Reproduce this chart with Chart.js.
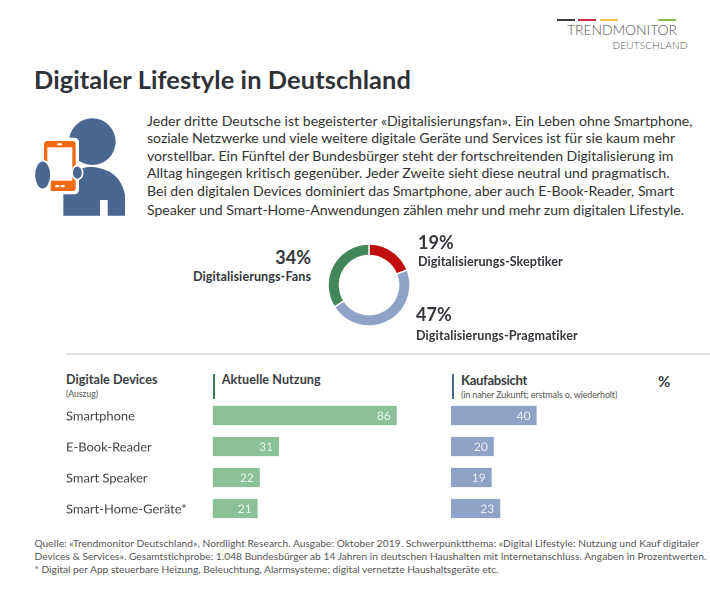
<!DOCTYPE html>
<html lang="de">
<head>
<meta charset="utf-8">
<title>Digitaler Lifestyle in Deutschland</title>
<script src="https://cdn.jsdelivr.net/npm/chart.js@4"></script>
<style>
html, body { margin: 0; padding: 0; background: #fff; }
#page { position: relative; width: 710px; height: 592px; overflow: hidden; font-family: Lato, sans-serif; color: #3a3d42; }
#page div, #page canvas { position: absolute; }
.t { white-space: nowrap; line-height: 1; }
.body { left: 147px; font-size: 14.1px; color: #333; }
.pct { font-size: 18px; font-weight: 700; color: #33363b; }
.seg { font-size: 12.6px; font-weight: 700; color: #33363b; }
.foot { left: 34.5px; font-size: 10.2px; color: #555; }
.bar-rule { width: 2px; height: 25px; top: 374px; }
</style>
</head>
<body>
<div id="page">
  <div style="left:557px;top:19px;width:18px;height:2px;background:#3c3c3c"></div>
  <div style="left:578px;top:19px;width:18px;height:2px;background:#c8313a"></div>
  <div style="left:600px;top:19px;width:18px;height:2px;background:#eec64a"></div>
  <div style="left:658px;top:19px;width:18px;height:2px;background:#8cba4e"></div>
  <div class="t" data-w="110" style="left:567px;top:23px;font-size:14px;font-weight:300;color:#555">TRENDMONITOR</div>
  <div class="t" data-w="75" style="left:612.5px;top:39.5px;font-size:10px;font-weight:300;color:#555">DEUTSCHLAND</div>

  <div class="t" data-w="377" style="left:34px;top:67px;font-size:25.4px;font-weight:700;color:#2f3237">Digitaler Lifestyle in Deutschland</div>

  <svg style="position:absolute;left:20px;top:105px" width="130" height="120" viewBox="0 0 390 360">
    <circle cx="217" cy="110" r="70" fill="#4a6791"/>
    <path d="M130 332 V250 Q150 190 210 185 Q300 190 315 270 V332 H263 V285 H240 V332 Z" fill="#4a6791"/>
    <rect x="62" y="98" width="115" height="170" rx="14" fill="#fff"/>
    <rect x="72" y="108" width="95" height="150" rx="10" fill="#f26a10"/>
    <rect x="82" y="127" width="75" height="100" fill="#fff"/>
    <rect x="72" y="172" width="20" height="90" fill="#fff"/>
    <rect x="112" y="115" width="14" height="6" rx="2" fill="#fff"/>
    <rect x="106" y="240" width="12" height="7" rx="2" fill="#fff"/>
    <rect x="122" y="240" width="12" height="7" rx="2" fill="#fff"/>
    <ellipse cx="68" cy="210" rx="25" ry="43" fill="#4a6791" stroke="#fff" stroke-width="5"/>
    <ellipse cx="172" cy="203" rx="16" ry="21" fill="#4a6791" stroke="#fff" stroke-width="5"/>
  </svg>

  <div class="t body" data-w="545" style="top:113.5px">Jeder dritte Deutsche ist begeisterter «Digitalisierungsfan». Ein Leben ohne Smartphone,</div>
  <div class="t body" data-w="528" style="top:131px">soziale Netzwerke und viele weitere digitale Geräte und Services ist für sie kaum mehr</div>
  <div class="t body" data-w="526" style="top:149px">vorstellbar. Ein Fünftel der Bundesbürger steht der fortschreitenden Digitalisierung im</div>
  <div class="t body" data-w="523" style="top:166px">Alltag hingegen kritisch gegenüber. Jeder Zweite sieht diese neutral und pragmatisch.</div>
  <div class="t body" data-w="527" style="top:184px">Bei den digitalen Devices dominiert das Smartphone, aber auch E-Book-Reader, Smart</div>
  <div class="t body" data-w="537" style="top:203px">Speaker und Smart-Home-Anwendungen zählen mehr und mehr zum digitalen Lifestyle.</div>

  <canvas id="donutChart" style="left:319px;top:235px;width:100px;height:100px"></canvas>
  <div class="t pct" id="pctFans" style="right:399px;top:248px"></div>
  <div class="t seg" id="lblFans" data-w="118" style="right:399px;top:271px"></div>
  <div class="t pct" id="pctSkeptiker" style="left:418px;top:233px"></div>
  <div class="t seg" id="lblSkeptiker" data-w="145" style="left:418px;top:256px"></div>
  <div class="t pct" id="pctPragmatiker" style="left:416px;top:305px"></div>
  <div class="t seg" id="lblPragmatiker" data-w="162" style="left:416px;top:330px"></div>

  <div style="left:66px;top:353px;width:644px;height:2px;background:#dfe1e4"></div>

  <div class="t" data-w="91.5" style="left:66px;top:374px;font-size:12.6px;font-weight:700">Digitale Devices</div>
  <div class="t" data-w="32" style="left:66px;top:390px;font-size:8.6px;color:#555">(Auszug)</div>
  <div class="bar-rule" style="left:212.5px;background:#3c7a4e"></div>
  <div class="t" data-w="99" style="left:221.7px;top:373.5px;font-size:12.6px;font-weight:700">Aktuelle Nutzung</div>
  <div class="bar-rule" style="left:451.5px;background:#4a6791"></div>
  <div class="t" data-w="66" style="left:461px;top:374px;font-size:13.2px;font-weight:700">Kaufabsicht</div>
  <div class="t" data-w="156" style="left:461px;top:390px;font-size:9px;color:#555">(in naher Zukunft; erstmals o. wiederholt)</div>
  <div class="t" style="left:658px;top:374px;font-size:15px;font-weight:700">%</div>

  <canvas id="usageChart" style="left:66px;top:400px;width:354px;height:124px"></canvas>
  <canvas id="intentChart" style="left:450.7px;top:400px;width:214px;height:124px"></canvas>

  <div class="t foot" data-w="664.5" style="top:537.5px">Quelle: «Trendmonitor Deutschland», Nordlight Research. Ausgabe: Oktober 2019. Schwerpunktthema: «Digital Lifestyle: Nutzung und Kauf digitaler</div>
  <div class="t foot" data-w="672" style="top:550.5px">Devices &amp; Services». Gesamtstichprobe: 1.048 Bundesbürger ab 14 Jahren in deutschen Haushalten mit Internetanschluss. Angaben in Prozentwerten.</div>
  <div class="t foot" data-w="464" style="top:564px">* Digital per App steuerbare Heizung, Beleuchtung, Alarmsysteme; digital vernetzte Haushaltsgeräte etc.</div>
</div>

<script>
const segmentLabels = ['Digitalisierungs-Skeptiker', 'Digitalisierungs-Pragmatiker', 'Digitalisierungs-Fans'];
const segmentValues = [19, 47, 34];
const segmentColors = ['#c00d0d', '#8ea3c6', '#43885a'];

const devices = ['Smartphone', 'E-Book-Reader', 'Smart Speaker', 'Smart-Home-Geräte*'];
const usageValues = [86, 31, 22, 21];
const intentValues = [40, 20, 19, 23];

const AXIS_GUTTER = 146.7;
const PX_PER_UNIT = 2.14;

Chart.defaults.font.family = 'Lato, sans-serif';
Chart.defaults.animation = false;
Chart.defaults.devicePixelRatio = 2;

const barValueLabels = {
    id: 'barValueLabels',
    afterDatasetsDraw(chart) {
        const ctx = chart.ctx;
        const meta = chart.getDatasetMeta(0);
        ctx.save();
        ctx.font = '12px Lato, sans-serif';
        ctx.fillStyle = 'rgba(255,255,255,0.85)';
        ctx.textAlign = 'right';
        ctx.textBaseline = 'middle';
        meta.data.forEach((bar, i) => {
            ctx.fillText(chart.data.datasets[0].data[i], bar.x - 6, bar.y + 0.5);
        });
        ctx.restore();
    }
};

function barOptions(showCategories, widthPx) {
    return {
        indexAxis: 'y',
        responsive: false,
        layout: { padding: 0 },
        plugins: { legend: { display: false }, tooltip: { enabled: false } },
        scales: {
            x: {
                display: false,
                min: 0,
                max: (widthPx - (showCategories ? AXIS_GUTTER : 0)) / PX_PER_UNIT
            },
            y: {
                display: showCategories,
                border: { display: false },
                grid: { display: false },
                afterFit(scale) {
                    if (!showCategories) return;
                    scale.width = AXIS_GUTTER;
                    // tick labels must not shrink the bands
                    scale.paddingTop = 0;
                    scale.paddingBottom = 0;
                },
                ticks: {
                    crossAlign: 'far',
                    padding: 0,
                    labelOffset: 1,
                    color: '#3f4247',
                    font: { size: 12.9 }
                }
            }
        }
    };
}

function makeBarChart(id, values, color, showCategories, widthPx) {
    const canvas = document.getElementById(id);
    canvas.width = widthPx;
    canvas.height = 124;
    return new Chart(canvas, {
        type: 'bar',
        data: {
            labels: devices,
            datasets: [{
                data: values,
                backgroundColor: color,
                barPercentage: 0.623,
                categoryPercentage: 1
            }]
        },
        options: barOptions(showCategories, widthPx),
        plugins: [barValueLabels]
    });
}

// squeeze a text line to the width it has in the picture
function fitLine(el) {
    const target = parseFloat(el.dataset.w);
    const chars = el.textContent.length;
    const diff = target - el.getBoundingClientRect().width;
    el.style.letterSpacing = (diff / chars).toFixed(3) + 'px';
}

const donutCanvas = document.getElementById('donutChart');
donutCanvas.width = 100;
donutCanvas.height = 100;
new Chart(donutCanvas, {
    type: 'doughnut',
    data: {
        labels: segmentLabels,
        datasets: [{
            data: segmentValues,
            backgroundColor: segmentColors,
            borderColor: '#fff',
            borderWidth: 1.5
        }]
    },
    options: {
        responsive: false,
        cutout: '72%',
        radius: 41,
        plugins: { legend: { display: false }, tooltip: { enabled: false } }
    }
});

makeBarChart('usageChart', usageValues, '#8cc097', true, 354);
makeBarChart('intentChart', intentValues, '#8ea3c6', false, 214);

document.getElementById('pctSkeptiker').textContent = segmentValues[0] + '%';
document.getElementById('pctPragmatiker').textContent = segmentValues[1] + '%';
document.getElementById('pctFans').textContent = segmentValues[2] + '%';
document.getElementById('lblSkeptiker').textContent = segmentLabels[0];
document.getElementById('lblPragmatiker').textContent = segmentLabels[1];
document.getElementById('lblFans').textContent = segmentLabels[2];

document.querySelectorAll('[data-w]').forEach(fitLine);
</script>
</body>
</html>
